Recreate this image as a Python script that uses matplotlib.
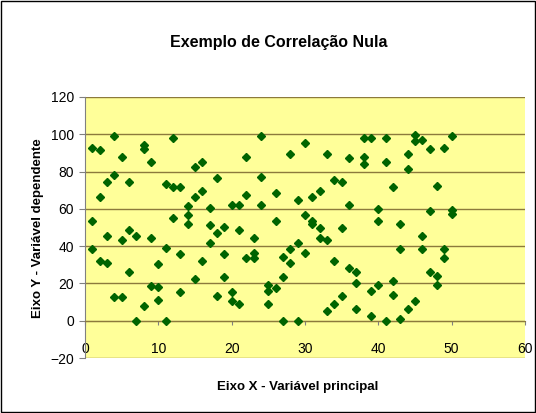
import matplotlib
matplotlib.use("Agg")
import matplotlib.pyplot as plt
from matplotlib.patches import Rectangle

# Data
x_vals = [1, 1, 1, 2, 2, 2, 3, 3, 3, 4, 4, 4, 5, 5, 5, 6, 6, 6, 7, 7,
          8, 8, 8, 9, 9, 9, 10, 10, 10, 11, 11, 11, 12, 12, 12, 13, 13, 13,
          14, 14, 14, 15, 15, 15, 16, 16, 16, 17, 17, 17, 18, 18, 18,
          19, 19, 19, 20, 20, 20, 21, 21, 21, 22, 22, 22, 23, 23, 23,
          24, 24, 24, 25, 25, 25, 26, 26, 26, 27, 27, 27, 28, 28, 28,
          29, 29, 29, 30, 30, 30, 31, 31, 31, 32, 32, 32, 33, 33, 33,
          34, 34, 34, 35, 35, 35, 36, 36, 36, 37, 37, 37, 38, 38, 38,
          39, 39, 39, 40, 40, 40, 41, 41, 41, 42, 42, 42, 43, 43, 43,
          44, 44, 44, 45, 45, 45, 46, 46, 46, 47, 47, 47, 48, 48, 48,
          49, 49, 49, 50, 50, 50]
y_vals = [92.9, 53.4, 38.7, 91.5, 66.6, 32.1, 74.4, 45.4, 31.2, 99.3, 77.9, 12.9,
          87.9, 43.5, 12.9, 74.4, 48.4, 26.2, 45.4, 0.0,
          94.3, 92.2, 7.9, 85.1, 44.2, 18.6, 30.3, 17.9, 11.1, 73.3, 39.2, 0.0,
          97.9, 71.5, 55.2, 71.5, 36.0, 15.2, 61.6, 56.6, 52.0, 82.2, 66.6, 22.3,
          85.1, 69.4, 32.1, 60.2, 51.6, 41.9, 76.5, 47.2, 13.4, 50.2, 35.6, 23.5,
          61.9, 15.2, 10.4, 61.9, 48.4, 9.0, 87.7, 67.3, 33.5, 44.2, 36.5, 33.9,
          99.3, 77.1, 61.9, 19.3, 16.1, 9.0, 68.5, 53.4, 17.5, 34.2, 23.5, 0.0,
          89.3, 38.5, 30.7, 65.0, 41.9, 0.0, 95.2, 56.6, 36.3, 66.4, 53.5, 52.0,
          69.4, 49.9, 44.2, 89.3, 43.5, 5.4, 75.3, 32.1, 9.0, 74.2, 50.0, 13.2,
          87.2, 61.9, 28.5, 26.3, 20.4, 6.2, 97.9, 87.9, 84.3, 97.9, 16.1, 2.7,
          60.0, 53.4, 19.2, 97.9, 85.1, 0.0, 71.5, 21.2, 13.9, 52.0, 38.5, 1.0,
          89.3, 81.5, 6.2, 99.6, 96.4, 10.4, 97.1, 45.6, 38.5, 92.2, 59.1, 26.3,
          72.0, 24.1, 19.1, 92.9, 38.5, 33.4, 99.3, 59.6, 57.0]

x_ticks = [0, 10, 20, 30, 40, 50, 60]
y_ticks = [-20, 0, 20, 40, 60, 80, 100, 120]

title = "Exemplo de Correlação Nula"
xlabel = "Eixo X - Variável principal"
ylabel = "Eixo Y - Variável dependente"

plt.rcParams['font.family'] = ['Liberation Sans', 'DejaVu Sans']

fig = plt.figure(figsize=(5.36, 4.13), dpi=100)
fig.patch.set_facecolor('white')
ax = fig.add_axes([85/536, 1 - 358/413, 440/536, 261/413])
ax.set_facecolor('#FFFF99')

grid_color = '#8C7A3C'
for yv in y_ticks:
    ax.axhline(yv, color=grid_color, lw=1.0, zorder=1)

ax.plot(x_vals, y_vals, linestyle='none', marker='D', markersize=3.8,
        color='#006400', markeredgecolor='#006400', zorder=3)

ax.set_xlim(0, 60)
ax.set_ylim(-20, 120)
ax.set_xticks(x_ticks)
ax.set_yticks(y_ticks)
ax.tick_params(axis='both', labelsize=10, colors='black')
ax.tick_params(axis='x', length=3, pad=12, direction='out', color='#808080')
ax.tick_params(axis='y', length=4, pad=4, color='#808080')

ax.spines['bottom'].set_position(('data', 0))
ax.spines['bottom'].set_color(grid_color)
ax.spines['top'].set_visible(False)
ax.spines['right'].set_visible(False)
ax.spines['left'].set_color('#808080')

fig.text(0.52, 1 - 42/413, title, ha='center', va='center', fontsize=11.5, fontweight='bold')
fig.text(0.555, 1 - 387/413, xlabel, ha='center', va='center', fontsize=9.5, fontweight='bold')
fig.text(38/536, 1 - 228/413, ylabel, ha='center', va='center', rotation=90,
         fontsize=9.5, fontweight='bold')

fig.patches.append(Rectangle((0.002, 0.002), 0.996, 0.996, transform=fig.transFigure,
                             fill=False, edgecolor='black', lw=1.0))

fig.savefig('out.png', dpi=100)
